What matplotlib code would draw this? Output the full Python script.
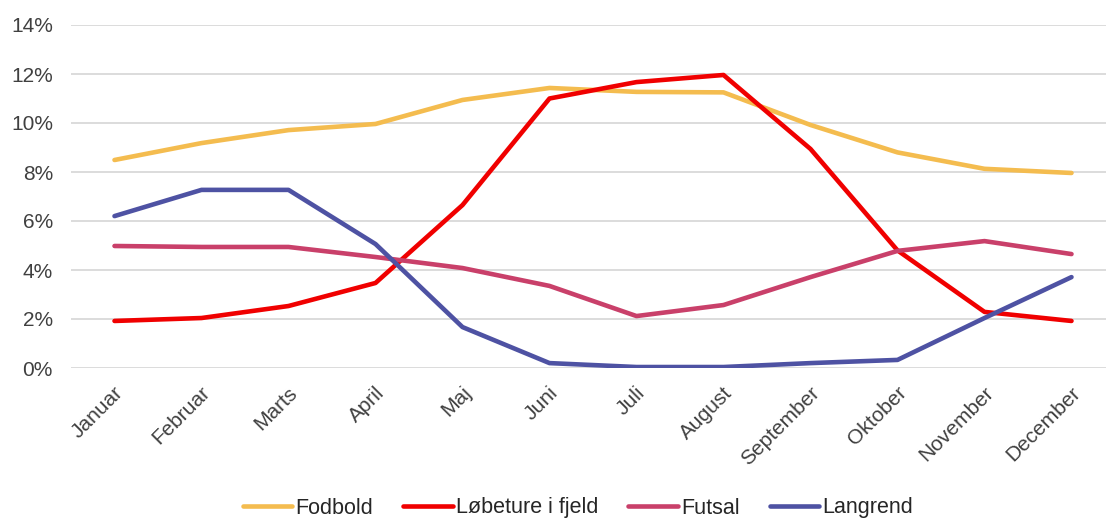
import matplotlib
matplotlib.use("Agg")
import matplotlib.pyplot as plt
import matplotlib.transforms as mtransforms
from matplotlib.ticker import FuncFormatter

plt.rcParams['font.family'] = ['Liberation Sans', 'DejaVu Sans']

months = ["Januar", "Februar", "Marts", "April", "Maj", "Juni",
          "Juli", "August", "September", "Oktober", "November", "December"]

fodbold = [8.49, 9.18, 9.71, 9.96, 10.94, 11.43, 11.27, 11.25, 9.92, 8.80, 8.13, 7.96]
loebeture = [1.92, 2.04, 2.53, 3.47, 6.65, 11.00, 11.67, 11.96, 8.94, 4.80, 2.29, 1.92]
futsal = [4.98, 4.94, 4.94, 4.53, 4.08, 3.35, 2.12, 2.57, 3.71, 4.78, 5.18, 4.65]
langrend = [6.20, 7.27, 7.27, 5.06, 1.67, 0.20, 0.04, 0.04, 0.20, 0.33, 2.04, 3.71]

series = [
    ("Fodbold", fodbold, "#F4BC4F"),
    ("Løbeture i fjeld", loebeture, "#F00000"),
    ("Futsal", futsal, "#C9406A"),
    ("Langrend", langrend, "#4E52A3"),
]

fig = plt.figure(figsize=(11.06, 5.18), dpi=100)
ax = fig.add_axes([71 / 1106, 1 - 368 / 518, (1115 - 71) / 1106, (368 - 25) / 518])

x = range(len(months))
for name, vals, color in series:
    ax.plot(x, vals, color=color, linewidth=3.3, label=name, solid_capstyle="round")

ax.set_xlim(-0.5, len(months) - 0.5)
ax.set_ylim(0, 14)
ax.set_yticks(range(0, 15, 2))
ax.yaxis.set_major_formatter(FuncFormatter(lambda v, p: f"{v:.0f}%"))
ax.grid(axis="y", color="#D9D9D9", linewidth=1.3)
ax.set_axisbelow(True)
for s in ax.spines.values():
    s.set_visible(False)
ax.tick_params(axis="both", length=0, labelsize=15, colors="#404040", pad=8)
ax.tick_params(axis="y", pad=13)

ax.set_xticks(list(x))
ax.set_xticklabels(months, rotation=45, ha="right", rotation_mode="anchor")
offset = mtransforms.ScaledTranslation(-1 / 100, -4 / 100, fig.dpi_scale_trans)
for lbl in ax.get_xticklabels():
    lbl.set_transform(lbl.get_transform() + offset)

fig.legend(loc="center", bbox_to_anchor=(578 / 1106, 1 - 508 / 518), ncol=4,
           frameon=False, fontsize=15.5, handlelength=2.3, handletextpad=0.15,
           columnspacing=1.4)
for t in fig.legends[0].get_texts():
    t.set_color("#262626")

fig.savefig("out.png", dpi=100)
